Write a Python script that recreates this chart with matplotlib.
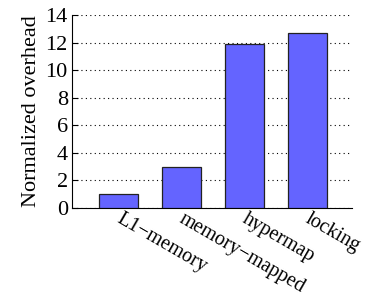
import matplotlib.pyplot as plt
from matplotlib.transforms import ScaledTranslation

# Daten
kategorien = ['L1\u2212memory', 'memory\u2212mapped', 'hypermap', 'locking']
overhead = [1.0, 3.0, 11.93, 12.68]

plt.rcParams['font.family'] = ['Liberation Serif', 'DejaVu Serif']

fig = plt.figure(figsize=(3.67, 2.96), dpi=100)
ax = fig.add_axes([72 / 367, 1 - 208 / 296, 280 / 367, 193 / 296])

x = list(range(len(kategorien)))
ax.bar(x, overhead, width=0.62, color='#6464ff', edgecolor='#222222', linewidth=0.9, zorder=3)

ax.set_xlim(-0.74, 3.71)
ax.set_ylim(0, 14)
ax.set_yticks(range(0, 15, 2))
ax.set_xticks(x)
ax.set_xticklabels(kategorien, rotation=-30, ha='left', va='top', rotation_mode='anchor', fontsize=14.5)
ax.tick_params(axis='x', length=0, pad=1)
ax.tick_params(axis='y', direction='in', length=4, labelsize=16, pad=3)

# Beschriftungen etwas nach rechts schieben
verschiebung = ScaledTranslation(4 / 100, 0, fig.dpi_scale_trans)
for lbl in ax.get_xticklabels():
    lbl.set_transform(lbl.get_transform() + verschiebung)

ax.grid(axis='y', linestyle=(0, (1, 3)), color='black', linewidth=0.8, zorder=0)
ax.spines['top'].set_visible(False)
ax.spines['right'].set_visible(False)

ax.set_ylabel('Normalized overhead', fontsize=16, labelpad=3)

plt.savefig('out.png')
